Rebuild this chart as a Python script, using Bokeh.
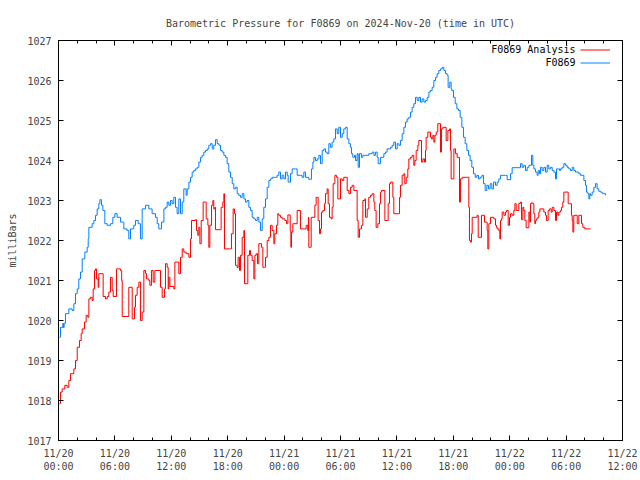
from bokeh.plotting import figure
from bokeh.models import FixedTicker, LinearAxis, Range1d, Legend, LegendItem, Label
from bokeh.embed import file_html
from bokeh.resources import INLINE

# ---- data (hours after 2024-11-20 00:00 UTC, pressure in mbar) ----
analysis_hours = [
    0.11, 0.21, 0.39, 0.67, 0.92, 1.10, 1.28, 1.63, 1.81, 1.99, 2.23, 2.41, 2.52, 2.77, 2.94,
    3.12, 3.23, 3.40, 3.58, 3.69, 3.83, 3.94, 4.04, 4.22, 4.29, 4.75, 5.00, 5.18, 5.35, 5.53,
    5.71, 5.82, 6.17, 6.60, 6.72, 6.78, 7.48, 7.84, 8.09, 8.19, 8.37, 8.55, 8.72, 8.90, 9.08,
    9.26, 9.36, 9.61, 9.72, 9.89, 10.07, 10.25, 10.85, 11.03, 11.28,
    11.38, 11.56, 11.67, 11.74, 11.85, 12.27, 12.38, 12.62, 12.80, 12.98, 13.16, 13.33, 13.58,
    13.87, 14.04, 14.15, 14.57, 14.68, 14.82, 14.93, 15.04, 15.18, 15.39, 15.64, 15.71, 15.89,
    15.99, 16.10, 16.28, 16.42, 16.52, 16.63, 16.70, 17.23, 17.30, 17.48, 17.59, 17.66, 18.30,
    18.40, 18.58, 18.72, 18.83, 19.01, 19.11, 19.26, 19.36, 19.54, 19.72, 19.79, 20.14, 20.32,
    20.43, 20.60, 20.78, 20.89, 21.03, 21.17, 21.31, 21.60, 21.74, 21.91, 22.02, 22.20, 22.38,
    22.55, 22.73, 22.91, 23.01, 23.19, 23.33,
    23.44, 23.62, 23.79, 24.08, 24.26, 24.40, 24.65, 24.72, 24.79, 24.93, 25.39, 25.74, 26.35,
    26.52, 26.59, 26.63, 26.81, 26.88, 27.27, 27.41, 27.62, 27.77, 27.87, 27.98, 28.12, 28.30,
    28.40, 28.58, 28.69, 28.83, 29.01, 29.11, 29.22, 29.40, 29.57, 29.72, 30.00, 30.18, 30.35,
    30.71, 30.89, 31.06, 31.24, 31.42, 31.77, 31.88, 32.02, 32.23, 32.38, 32.59, 32.66, 32.84,
    33.01, 33.19, 33.37, 33.55, 33.65, 33.79, 33.97, 34.15, 34.26, 34.36, 34.72, 34.96,
    35.07, 35.21, 35.32, 35.57, 35.67, 36.21, 36.28, 36.38, 36.56, 36.74, 36.84, 36.99, 37.16,
    37.27, 37.45, 37.62, 37.80, 37.91, 38.05, 38.23, 38.33, 38.62, 38.76, 38.94, 39.04, 39.11,
    39.29, 39.57, 39.68, 39.82, 39.93, 40.04, 40.18, 40.35, 40.64, 40.74, 40.89, 41.24, 41.42,
    41.60, 41.70, 41.77, 42.06, 42.23, 42.41, 42.66, 42.77, 42.94, 43.65, 43.72, 43.83, 43.94,
    44.01, 44.54, 44.65, 45.00, 45.32, 45.60, 45.67, 45.78, 45.96, 46.31, 46.49,
    46.60, 46.67, 46.84, 46.95, 47.02, 47.13, 47.20, 47.38, 47.55, 47.66, 47.84, 47.98, 48.09,
    48.26, 48.44, 48.55, 48.69, 48.97, 49.15, 49.26, 49.40, 49.50, 49.61, 49.75, 50.04, 50.14,
    50.21, 50.32, 50.46, 50.57, 50.67, 50.74, 50.85, 50.99, 51.10, 51.21, 51.63, 51.81, 51.91,
    52.09, 52.23, 52.41, 52.52, 52.70, 52.87, 52.98, 53.12, 53.23, 53.40, 53.51, 53.65, 53.76,
    54.22, 54.36, 54.57, 54.65, 54.72, 54.82, 55.18, 55.35, 55.64, 55.78, 55.99, 56.60,
]
analysis_mbar = [
    1017.92, 1018.21, 1018.29, 1018.38, 1018.33, 1018.50, 1018.67, 1018.79, 1019.00, 1019.33,
    1019.50, 1019.67, 1019.79, 1019.96, 1020.13, 1020.08, 1020.54, 1020.58, 1020.50, 1020.79,
    1021.25, 1021.29, 1021.04, 1020.83, 1021.17, 1020.60, 1020.54, 1020.60, 1020.71, 1021.08,
    1020.75, 1020.60, 1021.29, 1021.25, 1021.00, 1020.10, 1020.83, 1020.04, 1020.33, 1020.63,
    1020.83, 1020.96, 1020.00, 1020.21, 1021.25, 1021.17, 1021.04, 1021.00, 1020.88, 1021.25,
    1020.96, 1021.25, 1020.83, 1020.58, 1020.79,
    1021.42, 1021.33, 1020.79, 1021.08, 1020.85, 1020.79, 1021.46, 1021.46, 1021.17, 1021.58,
    1021.79, 1021.71, 1021.67, 1021.58, 1022.04, 1022.50, 1022.52, 1022.25, 1022.13, 1022.33,
    1021.92, 1022.50, 1022.96, 1022.96, 1022.54, 1022.38, 1021.83, 1022.38, 1022.88, 1023.00,
    1022.79, 1022.83, 1022.27, 1022.27, 1022.83, 1022.96, 1023.17, 1021.79, 1021.79, 1022.17,
    1022.79, 1022.67, 1021.38, 1021.32, 1021.58, 1021.25, 1021.63, 1022.08, 1022.25, 1020.92,
    1021.63, 1021.75, 1021.63, 1021.50, 1021.04, 1021.63, 1021.67, 1021.42, 1021.92, 1021.83,
    1021.33, 1021.33, 1021.58, 1022.00, 1022.08, 1022.38, 1022.25, 1021.92, 1022.17, 1022.38,
    1022.67,
    1022.63, 1022.58, 1022.54, 1022.50, 1022.42, 1022.64, 1022.25, 1021.83, 1022.21, 1022.42,
    1022.75, 1022.29, 1022.38, 1022.25, 1022.58, 1021.83, 1021.83, 1022.58, 1022.88, 1023.08,
    1022.50, 1022.17, 1022.29, 1022.71, 1022.75, 1022.92, 1023.17, 1023.29, 1022.92, 1022.58,
    1022.54, 1022.83, 1023.42, 1023.63, 1023.58, 1023.04, 1023.54, 1023.50, 1023.58, 1023.25,
    1023.17, 1023.33, 1023.38, 1023.25, 1022.50, 1022.08, 1022.29, 1022.38, 1023.00, 1023.04,
    1022.58, 1022.79, 1023.08, 1023.13, 1023.17, 1022.96, 1022.75, 1022.33, 1022.42, 1022.92,
    1023.21, 1023.25, 1022.50, 1022.50,
    1022.92, 1023.42, 1023.46, 1023.08, 1022.67, 1022.67, 1023.08, 1023.38, 1023.63, 1023.67,
    1023.42, 1023.58, 1023.79, 1024.04, 1024.08, 1024.13, 1023.88, 1024.00, 1024.25, 1024.38,
    1024.50, 1023.96, 1024.04, 1023.96, 1024.25, 1024.58, 1024.71, 1024.58, 1024.54, 1024.63,
    1024.46, 1024.63, 1024.71, 1024.92, 1024.21, 1024.79, 1024.83, 1024.50, 1024.75, 1024.79,
    1024.25, 1023.54, 1024.29, 1024.17, 1024.08, 1022.96, 1023.54, 1023.58, 1022.83, 1022.00,
    1021.96, 1022.17, 1022.58, 1022.63, 1022.08, 1022.63, 1022.46, 1022.25, 1021.79, 1022.42,
    1022.58, 1022.54, 1022.38,
    1022.33, 1022.29, 1022.25, 1022.04, 1022.50, 1022.54, 1022.71, 1022.63, 1022.71, 1022.75,
    1022.38, 1022.58, 1022.67, 1022.63, 1022.75, 1022.92, 1022.75, 1022.93, 1022.96, 1022.52,
    1022.83, 1022.75, 1022.50, 1022.32, 1022.71, 1022.46, 1022.92, 1022.94, 1022.92, 1022.67,
    1022.42, 1022.50, 1022.54, 1022.58, 1022.71, 1022.79, 1022.71, 1022.63, 1022.50, 1022.75,
    1022.79, 1022.71, 1022.83, 1022.75, 1022.50, 1022.71, 1022.63, 1022.71, 1022.75, 1022.83,
    1022.96, 1023.21, 1022.92, 1022.92, 1022.63, 1022.50, 1022.21, 1022.63, 1022.42, 1022.63,
    1022.42, 1022.33, 1022.29, 1022.29,
]

station_hours = [
    0.11, 0.21, 0.46, 0.53, 0.60, 0.74, 1.10, 1.45, 1.63, 1.81, 1.99, 2.16, 2.34, 2.52, 2.80,
    3.05, 3.16, 3.23, 3.58, 3.76, 3.94, 4.11, 4.29, 4.40, 4.57, 4.72, 4.93, 5.18, 5.53, 5.78,
    5.99, 6.24, 6.60, 6.95, 7.30, 7.48, 7.66, 8.01, 8.19, 8.48, 8.72, 8.90, 9.26, 9.61, 9.96,
    10.32, 10.50, 10.67, 10.96, 11.21,
    11.38, 11.56, 11.74, 11.91, 12.09, 12.27, 12.45, 12.62, 12.80, 12.98, 13.16, 13.33, 13.58,
    13.69, 13.87, 14.04, 14.22, 14.40, 14.57, 14.75, 14.93, 15.11, 15.28, 15.46, 15.64, 15.82,
    15.99, 16.17, 16.35, 16.52, 16.70, 16.88, 17.06, 17.23, 17.41, 17.59, 17.77, 17.94, 18.12,
    18.30, 18.48, 18.65, 18.83, 19.01, 19.18, 19.36, 19.54, 19.72, 19.89, 20.07, 20.25, 20.43,
    20.60, 20.78, 20.96, 21.14, 21.31, 21.49, 21.67, 21.84, 22.02, 22.20, 22.38, 22.55, 22.73,
    23.09, 23.26, 23.44, 23.62, 23.79, 23.97, 24.15, 24.33, 24.43, 24.68, 24.86, 25.21, 25.39,
    25.74, 25.92, 26.10, 26.28, 26.63, 26.81, 26.91, 27.06, 27.17, 27.34, 27.52, 27.70, 27.87,
    28.05, 28.23, 28.40, 28.58, 28.76, 28.94, 29.11, 29.29, 29.47, 29.65, 29.82, 30.00, 30.18,
    30.35, 30.53, 30.71, 30.89, 31.06, 31.17, 31.31, 31.49, 31.60, 31.77, 31.88, 32.02, 32.23,
    32.38, 32.66, 33.01, 33.37, 33.55, 33.72, 33.90, 34.01, 34.26, 34.61,
    34.79, 34.96, 35.32, 35.50, 35.67, 35.85, 36.03, 36.21, 36.38, 36.56, 36.74, 36.91, 37.09,
    37.27, 37.45, 37.62, 37.80, 37.98, 38.16, 38.33, 38.51, 38.69, 38.87, 39.04, 39.22, 39.40,
    39.57, 39.75, 39.93, 40.11, 40.28, 40.46, 40.64, 40.82, 40.99, 41.17, 41.35, 41.45, 41.63,
    41.77, 41.84, 42.02, 42.20, 42.38, 42.55, 42.73, 42.91, 43.09, 43.26, 43.44, 43.62, 43.79,
    43.97, 44.15, 44.33, 44.50, 44.68, 44.86, 45.04, 45.21, 45.39, 45.57, 45.74, 45.92, 46.10,
    46.28,
    46.49, 46.67, 46.84, 47.02, 47.55, 47.73, 48.09, 48.26, 48.97, 49.15, 49.33, 49.50, 49.68,
    49.86, 50.04, 50.32, 50.46, 50.57, 50.74, 50.92, 51.03, 51.17, 51.28, 51.45, 51.63, 51.81,
    51.99, 52.16, 52.34, 52.52, 52.70, 52.87, 52.98, 53.30, 53.40, 53.58, 53.76, 53.94, 54.11,
    54.29, 54.47, 54.65, 54.82, 55.00, 55.35, 55.53, 55.89, 56.06, 56.17, 56.31, 56.42, 56.52,
    56.60, 56.77, 56.95, 57.13, 57.30, 57.48, 57.66, 57.84, 58.01, 58.19,
]
station_mbar = [
    1019.58, 1019.83, 1019.93, 1019.82, 1019.93, 1020.17, 1020.29, 1020.25, 1020.42, 1020.67,
    1020.79, 1021.04, 1021.21, 1021.54, 1021.71, 1021.83, 1022.04, 1022.33, 1022.42, 1022.50,
    1022.63, 1022.79, 1022.92, 1023.02, 1022.88, 1022.75, 1022.42, 1022.38, 1022.42, 1022.58,
    1022.67, 1022.58, 1022.46, 1022.29, 1022.25, 1022.04, 1022.29, 1022.38, 1022.50, 1022.42,
    1022.04, 1022.79, 1022.88, 1022.79, 1022.67, 1022.58, 1022.42, 1022.29, 1022.46, 1022.79,
    1022.83, 1022.96, 1022.88, 1023.00, 1022.92, 1023.08, 1022.83, 1022.67, 1023.04, 1022.67,
    1022.96, 1023.29, 1023.13, 1023.29, 1023.46, 1023.58, 1023.71, 1023.75, 1023.79, 1023.83,
    1023.96, 1024.08, 1024.13, 1024.21, 1024.25, 1024.29, 1024.38, 1024.42, 1024.29, 1024.38,
    1024.52, 1024.42, 1024.38, 1024.25, 1024.21, 1024.13, 1024.08, 1023.92, 1023.71, 1023.58,
    1023.42, 1023.29, 1023.33, 1023.17, 1023.13, 1023.08, 1023.17, 1023.04, 1022.96, 1023.00,
    1022.83, 1022.75, 1022.58, 1022.54, 1022.50, 1022.58, 1022.46, 1022.25, 1022.54, 1022.83,
    1023.04, 1023.33, 1023.50, 1023.54, 1023.58,
    1023.58, 1023.63, 1023.71, 1023.54, 1023.63, 1023.54, 1023.71, 1023.63, 1023.46, 1023.67,
    1023.79, 1023.79, 1023.63, 1023.63, 1023.58, 1023.71, 1023.58, 1023.53, 1023.53, 1023.79,
    1023.96, 1024.08, 1024.00, 1024.04, 1024.13, 1023.92, 1024.25, 1024.29, 1024.21, 1024.17,
    1024.42, 1024.33, 1024.46, 1024.54, 1024.79, 1024.67, 1024.83, 1024.58, 1024.67, 1024.79,
    1024.83, 1024.54, 1024.42, 1024.33, 1024.17, 1024.08, 1024.13, 1024.00, 1024.17, 1023.83,
    1024.17, 1024.08, 1024.13, 1024.13, 1024.17, 1024.21, 1024.13, 1024.21, 1024.08, 1023.92,
    1024.08, 1024.17,
    1024.21, 1024.29, 1024.33, 1024.38, 1024.46, 1024.29, 1024.42, 1024.38, 1024.50, 1024.67,
    1024.83, 1024.96, 1025.04, 1025.08, 1025.21, 1025.33, 1025.42, 1025.58, 1025.50, 1025.58,
    1025.46, 1025.54, 1025.46, 1025.50, 1025.58, 1025.71, 1025.75, 1025.83, 1026.00, 1026.08,
    1026.17, 1026.25, 1026.29, 1026.33, 1026.25, 1026.17, 1026.13, 1025.83, 1025.96, 1025.79,
    1025.75, 1025.58, 1025.42, 1025.29, 1025.25, 1025.08, 1024.83, 1024.58, 1024.42, 1024.25,
    1024.13, 1024.00, 1023.83, 1023.67, 1023.58, 1023.63, 1023.54, 1023.58, 1023.63, 1023.42,
    1023.25, 1023.38, 1023.29, 1023.42, 1023.29, 1023.46,
    1023.38, 1023.46, 1023.54, 1023.63, 1023.63, 1023.52, 1023.67, 1023.82, 1023.82, 1023.92,
    1023.83, 1023.88, 1023.75, 1023.83, 1023.88, 1024.13, 1023.88, 1023.79, 1023.71, 1023.63,
    1023.75, 1023.67, 1023.83, 1023.75, 1023.83, 1023.71, 1023.88, 1023.79, 1023.83, 1023.75,
    1023.71, 1023.54, 1023.79, 1023.75, 1023.79, 1023.83, 1023.92, 1023.88, 1023.83, 1023.79,
    1023.75, 1023.83, 1023.75, 1023.71, 1023.67, 1023.63, 1023.50, 1023.38, 1023.21, 1023.17,
    1023.04, 1023.17, 1023.13, 1023.21, 1023.33, 1023.42, 1023.29, 1023.23, 1023.21, 1023.18,
    1023.17, 1023.13,
]

x_tick_hours = [0, 6, 12, 18, 24, 30, 36, 42, 48, 54, 60]
x_tick_labels = ["11/20\n00:00", "11/20\n06:00", "11/20\n12:00", "11/20\n18:00",
                 "11/21\n00:00", "11/21\n06:00", "11/21\n12:00", "11/21\n18:00",
                 "11/22\n00:00", "11/22\n06:00", "11/22\n12:00"]
y_ticks = [1017, 1018, 1019, 1020, 1021, 1022, 1023, 1024, 1025, 1026, 1027]
series_names = ["F0869 Analysis", "F0869"]
series_colors = ["#ff0000", "#0080ff"]

FONT = "DejaVu Sans Mono"
FS = "10px"

p = figure(frame_width=564, frame_height=400,
           x_range=Range1d(0, 60), y_range=Range1d(1017, 1027),
           output_backend="svg", toolbar_location=None,
           min_border_left=58, min_border_right=18,
           min_border_top=40, min_border_bottom=40,
           background_fill_color="white", border_fill_color="white")

p.xgrid.visible = False
p.ygrid.visible = False
p.outline_line_color = "black"
p.outline_line_width = 1

minor_x = list(range(0, 61, 2))
xt = FixedTicker(ticks=x_tick_hours, minor_ticks=minor_x)
yt = FixedTicker(ticks=y_ticks, minor_ticks=[])

for ax in p.xaxis:
    ax.ticker = xt
    ax.major_label_overrides = {h: lab for h, lab in zip(x_tick_hours, x_tick_labels)}
for ax in p.yaxis:
    ax.ticker = yt
    ax.axis_label = "milliBars"
    ax.axis_label_text_font = FONT
    ax.axis_label_text_font_size = FS
    ax.axis_label_text_font_style = "normal"
    ax.axis_label_standoff = 6

for ax in list(p.xaxis) + list(p.yaxis):
    ax.major_tick_in = 5
    ax.major_tick_out = 0
    ax.minor_tick_in = 3
    ax.minor_tick_out = 0
    ax.major_label_text_font = FONT
    ax.major_label_text_font_size = FS
    ax.major_label_standoff = 7
    ax.axis_line_color = "black"

# mirrored ticks on top and right (no labels)
top_ax = LinearAxis(ticker=FixedTicker(ticks=x_tick_hours, minor_ticks=minor_x),
                    major_label_overrides={h: "" for h in x_tick_hours},
                    major_label_text_color=None, major_label_standoff=0,
                    major_tick_in=5, major_tick_out=0, minor_tick_in=3, minor_tick_out=0)
right_ax = LinearAxis(ticker=FixedTicker(ticks=y_ticks, minor_ticks=[]),
                      major_label_overrides={v: "" for v in y_ticks},
                      major_label_text_color=None, major_label_standoff=0,
                      major_tick_in=5, major_tick_out=0, minor_tick_in=3, minor_tick_out=0)
p.add_layout(top_ax, "above")
p.add_layout(right_ax, "right")

p.title.text = "Barometric Pressure for F0869 on 2024-Nov-20 (time in UTC)"
p.title.align = "center"
p.title.text_font = FONT
p.title.text_font_size = FS
p.title.text_font_style = "normal"
p.title.standoff = 24

r_an = p.step(analysis_hours, analysis_mbar, mode="after", line_color=series_colors[0], line_width=1)
r_st = p.step(station_hours, station_mbar, mode="after", line_color=series_colors[1], line_width=1)

# gnuplot-style key: text right-aligned, sample line on the right
legend = Legend(items=[LegendItem(label=" ", renderers=[r_an]),
                       LegendItem(label=" ", renderers=[r_st])],
                location=(522, 371), orientation="vertical",
                glyph_width=30, glyph_height=13, label_height=13, label_width=0,
                label_standoff=0, label_text_font_size="1px", spacing=0, padding=0,
                margin=0, border_line_alpha=0, background_fill_alpha=0)
p.add_layout(legend, "center")
for name, ypos in zip(series_names, [391, 378]):
    p.add_layout(Label(x=517, y=ypos, x_units="screen", y_units="screen", text=name,
                       text_align="right", text_baseline="middle",
                       text_font=FONT, text_font_size=FS, text_font_style="normal",
                       text_color="black"))

open("out.html", "w").write(file_html(p, INLINE))
